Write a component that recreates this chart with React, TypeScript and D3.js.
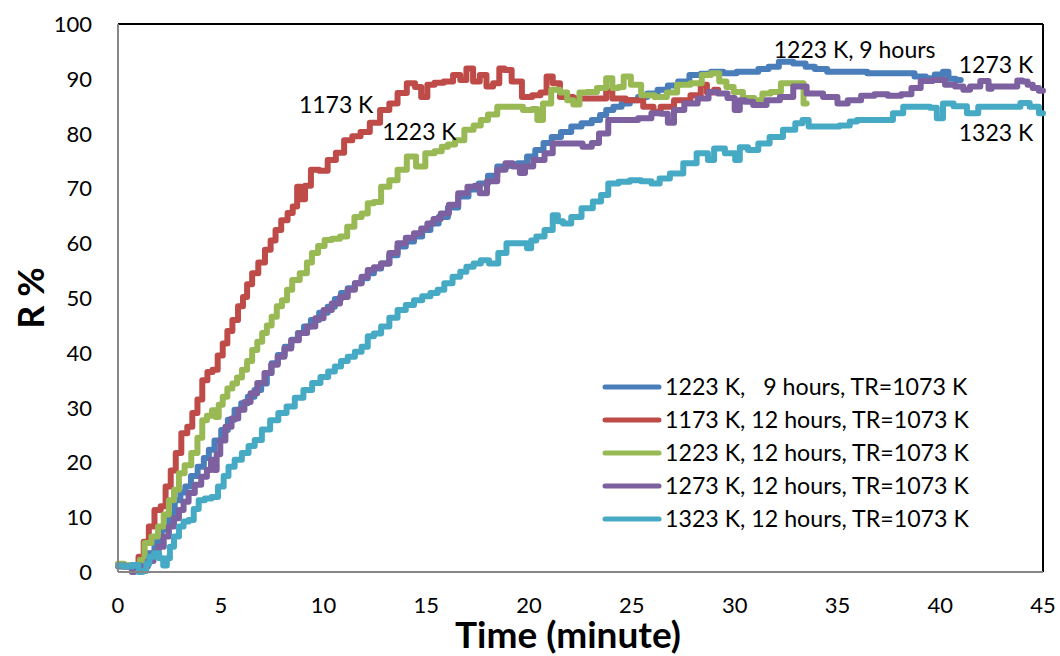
import React from 'react';
import * as d3 from 'd3';

type Pt = [number, number];

// time (minute), R %
const red1173: Pt[] = [[0,1.2],[0.5,1.0],[0.9,1.3],[1.1,2.8],[1.4,5.5],[1.6,8.3],[1.95,11.3],[2.2,12],[2.43,15.6],[2.7,18.5],[2.92,21.7],[3.24,25.3],[3.5,26.5],[3.73,29],[4.0,31.5],[4.2,35],[4.5,36.5],[4.7,36.9],[5.0,39.5],[5.19,41.7],[5.45,44],[5.68,46],[6.0,48.5],[6.16,50.2],[6.4,52.5],[6.65,54.5],[7.0,56.5],[7.3,58.8],[7.55,60.5],[7.78,62.4],[8.1,64.2],[8.4,65.5],[8.6,66.7],[8.83,70.3],[9.0,68],[9.2,70.5],[9.57,73.4],[10.0,73.2],[10.4,75.2],[10.8,76.5],[11.2,78.8],[11.6,79.5],[12.0,80.3],[12.5,82],[13.0,84.3],[13.4,85.5],[13.8,87.4],[14.3,89.2],[14.6,88.5],[14.9,86.7],[15.2,88.9],[15.6,89.3],[16.1,89.5],[16.5,90.7],[16.8,89.8],[17.1,91.9],[17.45,89.5],[17.75,90.7],[18.1,88.6],[18.4,89.2],[18.7,91.9],[18.9,91.6],[19.4,89.5],[19.9,86.7],[20.4,87],[20.7,87.5],[21.0,90.4],[21.3,89.2],[21.7,86.7],[22.6,86.4],[23.6,86.4],[23.9,87.8],[24.2,86.4],[25.2,86.1],[25.9,84.9],[26.2,84],[26.6,84.9],[27.5,86.1],[28.2,87],[28.5,88.9],[28.8,87.5],[29.2,88]];

const green1223: Pt[] = [[0,1.5],[0.6,1.2],[1.0,1.0],[1.13,2.2],[1.46,5.3],[1.8,6.5],[2.1,8.3],[2.35,10.5],[2.6,13.1],[2.85,15],[3.08,18],[3.4,19.5],[3.73,21.7],[4.0,24.5],[4.2,27.7],[4.45,28.5],[4.7,29.5],[4.8,28.3],[5.0,30.5],[5.19,32],[5.45,33.5],[5.68,34.4],[5.9,35.5],[6.16,36.9],[6.4,38.5],[6.65,40.5],[6.9,42],[7.13,43.6],[7.35,45],[7.6,46.6],[7.85,48.5],[8.1,49.6],[8.35,51.5],[8.6,53.3],[9.08,54.5],[9.3,56.5],[9.57,58.2],[9.9,59.5],[10.2,60.6],[10.6,60.8],[11.0,61.2],[11.3,63],[11.7,64.8],[12.0,65.4],[12.3,67.3],[12.6,67.5],[13.0,70.3],[13.4,71.5],[13.8,73.4],[14.3,75.8],[14.7,74],[15.2,76.4],[15.6,76.8],[15.9,77.6],[16.2,78],[16.6,78.8],[17.1,80.7],[17.5,81.5],[17.8,82.5],[18.2,83.5],[18.7,84.9],[19.4,84.9],[20.0,84.3],[20.3,84.5],[20.5,82.5],[20.85,85.5],[21.3,88],[21.7,87.5],[22.0,86.1],[22.3,85.3],[22.6,87.5],[23.0,87.6],[23.6,88.3],[23.9,90.1],[24.2,88.3],[24.5,88.5],[24.7,90.4],[25.2,88.9],[25.7,87],[26.5,86.7],[26.9,87.5],[27.5,88.9],[28.2,89.2],[28.6,90.7],[29.1,91],[29.4,89.5],[29.8,88.5],[30.1,87.6],[30.7,86.5],[31.2,86.1],[31.5,87.3],[32.0,87.6],[32.5,89.2],[33.2,89.2],[33.5,85.5]];

const blue1223h9: Pt[] = [[0,1.0],[0.5,1.2],[0.9,0.8],[1.2,1.5],[1.6,3.4],[1.95,5.5],[2.27,7.7],[2.6,10.5],[2.92,13.1],[3.15,14.5],[3.4,15.6],[3.7,17.5],[4.05,19.2],[4.3,20.8],[4.54,22.3],[4.85,24],[5.19,25.9],[5.5,27.8],[5.84,29.6],[6.15,30.8],[6.48,32],[6.8,33.2],[7.13,34.4],[7.35,36.3],[7.6,38.1],[7.95,39.6],[8.27,41.1],[8.6,42.4],[8.9,43.6],[9.2,44.8],[9.57,46],[10.0,47.3],[10.4,48.4],[10.7,49.8],[11.0,50.9],[11.35,51.8],[11.7,52.7],[12.0,53.6],[12.3,54.5],[12.6,55.4],[13.0,56.3],[13.4,57.8],[13.8,59.4],[14.2,60.3],[14.6,61.2],[15.0,62.4],[15.4,63.6],[15.8,64.8],[16.3,66.5],[16.8,68.5],[17.3,69.8],[17.8,70.9],[18.2,72.3],[18.7,74],[19.2,74.2],[19.7,74.6],[20.1,75.8],[20.5,77],[20.9,78.3],[21.3,79.4],[21.8,80.3],[22.3,81.3],[22.8,81.9],[23.3,82.5],[23.6,83.4],[23.9,84.3],[24.3,84.9],[24.7,85.5],[25.1,86.1],[25.5,86.7],[26.0,87.3],[26.5,88],[27.0,88.8],[27.5,89.5],[28.1,90.7],[28.6,90.9],[29.1,91.3],[29.8,91],[30.4,91.3],[30.9,91.3],[31.4,91.8],[31.9,92.2],[32.4,93.1],[33.3,92.8],[33.6,92.2],[34.2,91.8],[34.8,91.3],[35.9,91.3],[37.0,91],[38.4,91],[39.1,90.4],[39.5,90.1],[39.97,90.8],[40.3,91.3],[40.5,90],[41.0,89.8]];

const purple1273: Pt[] = [[0,1.2],[0.6,1.0],[0.75,0],[0.85,1.2],[1.3,1.0],[1.6,2],[1.85,3.5],[2.1,4.6],[2.35,6.5],[2.6,8.3],[2.85,9.8],[3.08,11.3],[3.3,12.8],[3.57,14.4],[3.9,15.9],[4.2,17.4],[4.45,18.6],[4.6,20.5],[4.75,18.6],[4.85,21.5],[5.1,24],[5.35,26.5],[5.7,28],[6.0,29.6],[6.3,31],[6.6,32.6],[6.95,34.5],[7.3,36.3],[7.6,37.8],[7.94,39.3],[8.25,40.8],[8.6,42.3],[9.0,43.6],[9.4,44.8],[9.8,46.3],[10.2,47.8],[10.6,49],[11.0,50.2],[11.35,51.5],[11.7,52.7],[12.0,53.9],[12.3,55.1],[12.6,55.6],[13.0,56.3],[13.4,58.2],[13.8,60],[14.2,61],[14.6,61.8],[14.9,62.7],[15.2,63.6],[15.5,64.4],[15.9,65.4],[16.3,67],[16.8,69.1],[17.2,70.3],[17.5,70.5],[17.7,69.1],[18.2,71.3],[18.7,73.4],[19.0,74.6],[19.4,74],[19.7,72.8],[19.9,74],[20.5,75.2],[21.0,76.4],[21.3,78.2],[22.3,78.2],[22.9,77.6],[23.2,78.3],[23.6,80],[24.1,82.5],[24.9,82.5],[25.7,82.8],[26.2,83.7],[26.6,83.6],[26.9,82],[27.2,84.3],[27.9,85.5],[28.5,86.4],[28.96,87.6],[29.4,87.3],[29.9,86.5],[30.1,84.3],[30.4,86.1],[30.6,85.8],[31.2,85.2],[31.9,86.1],[32.5,86.7],[33.2,88.6],[33.8,87.3],[34.8,86.7],[35.2,85.5],[35.8,86.1],[36.5,86.9],[37.1,87.2],[37.8,86.9],[38.4,87.2],[38.8,88.3],[39.3,89.6],[39.97,89.8],[40.5,88.9],[40.95,88.6],[41.3,88],[41.6,88.6],[42.3,89.6],[42.4,88.2],[42.6,88.6],[43.6,88.6],[43.9,89.7],[44.1,89.5],[44.4,88.9],[44.6,88.3],[45,87.8]];

const cyan1323: Pt[] = [[0,1.2],[0.5,1.0],[0.9,1.3],[1.1,0],[1.3,0.2],[1.45,1.5],[1.6,2.8],[1.9,3.4],[2.1,2.5],[2.3,1.2],[2.45,2.5],[2.6,4.6],[2.85,6.5],[3.08,8.3],[3.3,9.2],[3.57,9.5],[3.8,11.5],[4.05,13.1],[4.4,13.4],[4.7,13.7],[5.03,15.6],[5.25,17.5],[5.5,19.2],[5.85,20.5],[6.2,21.7],[6.5,23],[6.8,24.1],[7.2,26],[7.6,27.7],[8.0,29],[8.4,30.2],[8.8,31.8],[9.24,33.2],[9.65,34.5],[10.05,35.6],[10.4,36.6],[10.7,37.5],[11.0,38.5],[11.35,39.3],[11.7,40.2],[12.0,41.1],[12.3,43],[12.6,43.5],[13.0,44.8],[13.4,46.4],[13.8,47.8],[14.2,48.7],[14.6,49.6],[15.0,50.3],[15.4,50.9],[15.7,51.5],[16.05,52.7],[16.5,53.9],[16.8,54.8],[17.1,55.7],[17.5,56.3],[17.8,56.9],[18.3,56.3],[18.7,58.2],[19.1,60],[19.8,60],[20.0,59.1],[20.2,60.5],[20.5,61.2],[21.0,62.4],[21.3,65.1],[21.5,64],[21.8,63.6],[22.3,64.8],[22.8,66.4],[23.4,67.6],[23.6,68.8],[24.1,70.9],[24.6,71.2],[25.2,71.5],[25.7,71.3],[26.2,70.9],[26.5,71.8],[27.2,72.7],[27.8,74.6],[28.5,76.4],[28.9,75.2],[29.1,77.3],[29.95,76.4],[30.1,75.2],[30.4,77.5],[30.9,77],[31.4,78.2],[32.0,79.4],[32.7,80.7],[33.2,81.9],[33.4,82.5],[33.8,81.3],[34.8,81.3],[35.4,81.5],[35.8,82.2],[36.1,82.5],[37.4,82.5],[38.0,83.7],[38.4,84.9],[39.3,84.9],[39.7,84.7],[39.97,82.8],[40.3,85.5],[41.0,85],[41.6,83.7],[42.1,84.9],[42.9,84.9],[43.7,84.9],[44.1,85.6],[44.6,84.9],[45,83.7]];

const seriesNames = [
  '1223 K,   9 hours, TR=1073 K',
  '1173 K, 12 hours, TR=1073 K',
  '1223 K, 12 hours, TR=1073 K',
  '1273 K, 12 hours, TR=1073 K',
  '1323 K, 12 hours, TR=1073 K',
];
const seriesData = [blue1223h9, red1173, green1223, purple1273, cyan1323];
const colors = ['#4A7EBB', '#BE4B48', '#98B954', '#7D60A0', '#46AAC5'];

const xTicks = [0, 5, 10, 15, 20, 25, 30, 35, 40, 45];
const yTicks = [0, 10, 20, 30, 40, 50, 60, 70, 80, 90, 100];

// in-plot labels: [text, time, R%]
const notes: [string, number, number][] = [
  ['1173 K', 8.8, 83.8],
  ['1223 K', 12.85, 78.9],
  ['1223 K, 9 hours', 31.9, 93.8],
  ['1273 K', 40.9, 91],
  ['1323 K', 40.9, 78.6],
];

const W = 1060, H = 656;
const m = { left: 118, right: 17, top: 24, bottom: 84 };
const font = 'Lato, "Open Sans", sans-serif';

export default function App() {
  const x = d3.scaleLinear().domain([0, 45]).range([m.left, W - m.right]);
  const y = d3.scaleLinear().domain([0, 100]).range([H - m.bottom, m.top]);
  const line = d3.line<Pt>().x(d => x(d[0])).y(d => y(d[1])).curve(d3.curveStep);

  const x0 = x(0), x1 = x(45), y0 = y(0), y1 = y(100);

  return (
    <svg width={W} height={H} style={{ position: 'absolute', left: 0, top: 0, background: '#fff' }}
      fontFamily={font}>
      <rect x={0} y={0} width={W} height={H} fill="#fff" />
      {/* plot frame */}
      <line x1={x0} x2={x1} y1={y1} y2={y1} stroke="#000" strokeWidth={2} />
      <line x1={x1} x2={x1} y1={y1} y2={y0} stroke="#000" strokeWidth={2} />

      <g>
        {seriesData.map((s, i) => (
          <path key={i} d={line(s) || ''} fill="none" stroke={colors[i]} strokeWidth={6}
            strokeLinejoin="round" strokeLinecap="round" />
        ))}
      </g>

      {/* axes */}
      <line x1={x0} x2={x1} y1={y0} y2={y0} stroke="#868686" strokeWidth={2} />
      <line x1={x0} x2={x0} y1={y1} y2={y0} stroke="#868686" strokeWidth={2} />

      {yTicks.map(t => (
        <text key={t} x={92} y={y(t) + 8} textAnchor="end" fontSize={22} fill="#000">{t}</text>
      ))}
      {xTicks.map(t => (
        <text key={t} x={x(t)} y={613} textAnchor="middle" fontSize={22} fill="#000">{t}</text>
      ))}

      {notes.map(([label, t, v], i) => (
        <text key={i} x={x(t)} y={y(v)} fontSize={23} fill="#000" style={{ whiteSpace: 'pre' }}>{label}</text>
      ))}

      {/* legend */}
      {seriesNames.map((n, i) => (
        <g key={i} transform={`translate(605,${387 + i * 33})`}>
          <line x1={0} x2={54} y1={0} y2={0} stroke={colors[i]} strokeWidth={5} strokeLinecap="round" />
          <text x={60} y={8} fontSize={23.2} fill="#000" style={{ whiteSpace: 'pre' }}>{n}</text>
        </g>
      ))}

      <text transform="translate(44,298) rotate(-90)" textAnchor="middle" fontSize={36} fontWeight="bold">R %</text>
      <text x={568} y={648} textAnchor="middle" fontSize={37} fontWeight="bold">Time (minute)</text>
    </svg>
  );
}
